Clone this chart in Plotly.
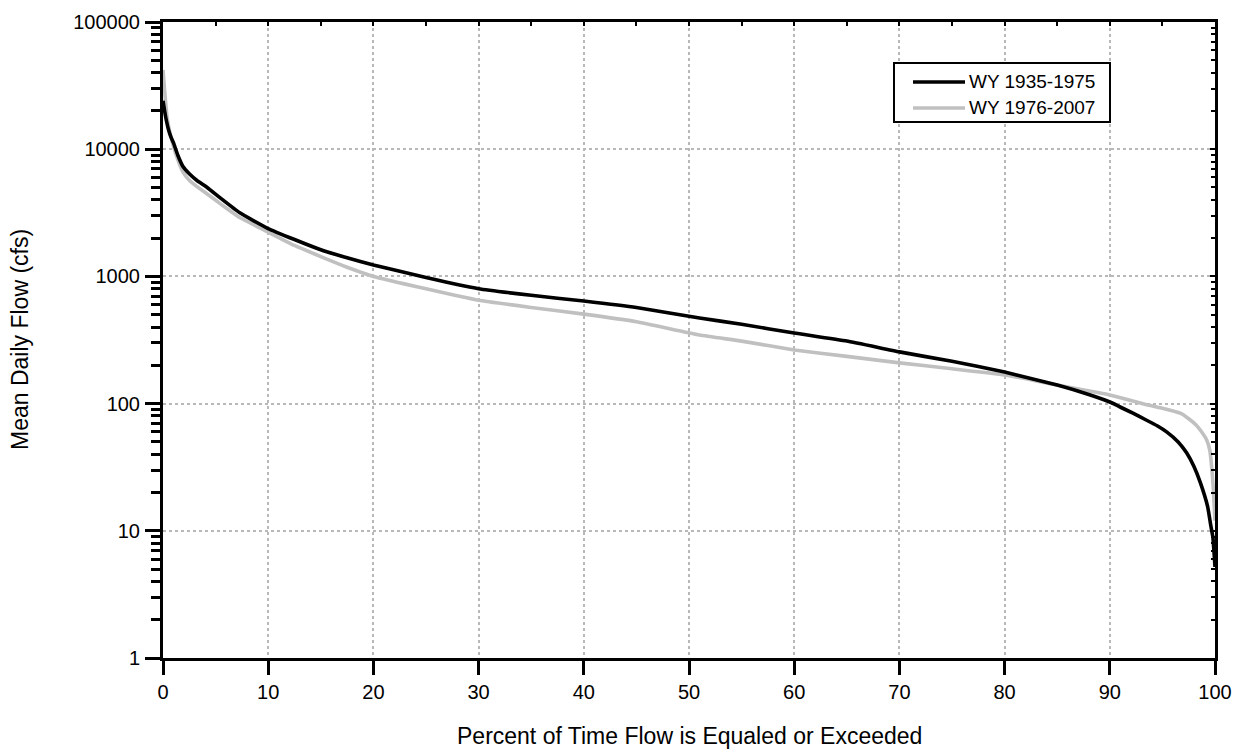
import plotly.graph_objects as go

# Flow-duration curves: percent of time exceeded vs mean daily flow (cfs)
pct_early = [0, 0.25, 0.5, 0.75, 1, 1.4, 1.9, 2.5, 3.2, 4.2, 5.5, 7.3, 9.9, 12.5, 15, 17.5, 20,
             25, 30, 35, 40, 45, 51, 55, 60, 65, 70, 75, 80, 85, 88, 90, 92.2, 93.5, 94.5, 95.4,
             96.5, 97.3, 98, 98.6, 99.3, 99.6, 99.8, 100]
flow_early = [24000, 18000, 14500, 12500, 11200, 9000, 7300, 6400, 5700, 5000, 4100, 3160, 2400,
              1950, 1620, 1400, 1230, 980, 800, 710, 640, 570, 471, 420, 359, 310, 255, 215, 177,
              140, 118, 103, 84, 74, 67, 60, 50, 41, 32, 24, 15.5, 11, 8.9, 5.2]

pct_late = [0, 0.2, 0.4, 0.7, 1, 1.4, 1.9, 2.5, 3.2, 4.2, 5.5, 7.3, 9.9, 12.5, 15, 17.5, 20, 25,
            30, 35, 40, 45, 51, 55, 60, 65, 70, 75, 80, 85, 89.1, 90, 93.5, 95, 96.7, 97.5,
            98.2, 98.6, 99.2, 99.5, 99.8, 100]
flow_late = [42000, 26000, 17500, 13000, 10500, 8300, 6600, 5700, 5100, 4450, 3700, 2900, 2250,
             1750, 1430, 1180, 1000, 800, 650, 570, 505, 440, 346, 310, 264, 235, 209, 188, 168,
             140, 121, 117, 98, 92, 84, 76, 68, 62, 52, 43, 24, 12]

series_names = ["WY 1935-1975", "WY 1976-2007"]
series_colors = ["#000000", "#c0c0c0"]
x_ticks = [0, 10, 20, 30, 40, 50, 60, 70, 80, 90, 100]
y_ticks = [1, 10, 100, 1000, 10000, 100000]
y_tick_text = ["1", "10", "100", "1000", "10000", "100000"]

FONT = "Liberation Sans, Arial, sans-serif"

fig = go.Figure()
fig.add_trace(go.Scatter(x=pct_late, y=flow_late, mode="lines", name=series_names[1],
                         line=dict(color=series_colors[1], width=3.6, shape="spline",
                                   smoothing=0.4),
                         showlegend=False))
fig.add_trace(go.Scatter(x=pct_early, y=flow_early, mode="lines", name=series_names[0],
                         line=dict(color=series_colors[0], width=3.6, shape="spline",
                                   smoothing=0.4),
                         showlegend=False))
# transparent copy on the mirrored axes so the top/right tick marks are drawn
fig.add_trace(go.Scatter(x=pct_early, y=flow_early, xaxis="x2", yaxis="y2", mode="lines",
                         line=dict(color="rgba(0,0,0,0)", width=0), hoverinfo="skip",
                         showlegend=False))

grid = dict(showgrid=True, gridcolor="#b8b8b8", griddash="dot", gridwidth=1.6)

fig.update_layout(
    width=1239, height=751,
    margin=dict(l=163, r=24, t=22, b=93, autoexpand=False),
    paper_bgcolor="white", plot_bgcolor="white",
    font=dict(family=FONT, size=20, color="black"),
    showlegend=False,
    xaxis=dict(
        range=[0, 100], tickvals=x_ticks, ticks="outside", ticklen=14, tickwidth=3,
        tickcolor="black", showline=True, linecolor="black", linewidth=3, mirror=True,
        zeroline=False, tickfont=dict(size=20), automargin=False, **grid,
    ),
    yaxis=dict(
        type="log", range=[0, 5], tickvals=y_ticks, ticktext=y_tick_text,
        ticks="outside", ticklen=15, tickwidth=3, tickcolor="black",
        minor=dict(ticks="outside", ticklen=9, tickwidth=3, tickcolor="black",
                   dtick="D1", showgrid=False),
        showline=True, linecolor="black", linewidth=3, mirror=True,
        zeroline=False, tickfont=dict(size=20), ticklabelstandoff=1, automargin=False,
        **grid,
    ),
    xaxis2=dict(
        range=[0, 100], overlaying="x", side="top", anchor="y2", dtick=5,
        ticks="inside", ticklen=4, tickwidth=2, tickcolor="black", automargin=False,
        showticklabels=False, showgrid=False, zeroline=False, showline=False,
    ),
    yaxis2=dict(
        type="log", range=[0, 5], overlaying="y", side="right", anchor="x2",
        tickvals=y_ticks, ticks="inside", ticklen=5, tickwidth=2, tickcolor="black",
        minor=dict(ticks="inside", ticklen=4, tickwidth=2, tickcolor="black",
                   dtick="D1", showgrid=False),
        showticklabels=False, showgrid=False, zeroline=False, showline=False,
        automargin=False,
    ),
)


def px_x(px):
    return (px - 163) / 1052


def px_y(py):
    return (658 - py) / 636


# axis titles
fig.add_annotation(text="Percent of Time Flow is Equaled or Exceeded", xref="paper",
                   yref="paper", x=0.5, y=px_y(736), xanchor="center", yanchor="middle",
                   showarrow=False, font=dict(family=FONT, size=23))
fig.add_annotation(text="Mean Daily Flow (cfs)", xref="paper", yref="paper", x=px_x(20),
                   y=0.5, xanchor="center", yanchor="middle", textangle=-90,
                   showarrow=False, font=dict(family=FONT, size=23))

# legend box
fig.add_shape(type="rect", xref="paper", yref="paper", x0=px_x(894), x1=px_x(1110),
              y0=px_y(122), y1=px_y(63), line=dict(color="black", width=2),
              fillcolor="white", layer="above")
for name, color, row_y in zip(series_names, series_colors, [82, 108]):
    fig.add_shape(type="line", xref="paper", yref="paper", x0=px_x(913), x1=px_x(965),
                  y0=px_y(row_y), y1=px_y(row_y), line=dict(color=color, width=3.6),
                  layer="above")
    fig.add_annotation(text=name, xref="paper", yref="paper", x=px_x(967), y=px_y(row_y),
                       xanchor="left", yanchor="middle", showarrow=False,
                       font=dict(family=FONT, size=19))

fig.write_html("out.html")
